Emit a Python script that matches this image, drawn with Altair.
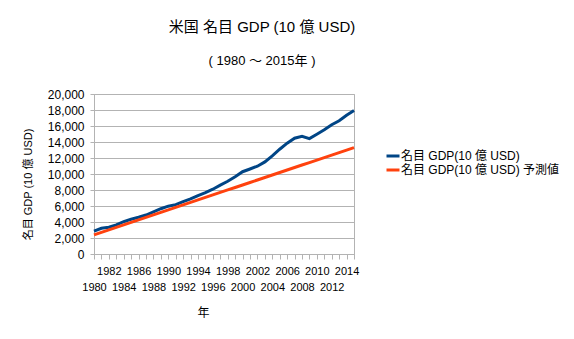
import altair as alt
import pandas as pd

years = [1980, 1981, 1982, 1983, 1984, 1985, 1986, 1987, 1988, 1989,
         1990, 1991, 1992, 1993, 1994, 1995, 1996, 1997, 1998, 1999,
         2000, 2001, 2002, 2003, 2004, 2005, 2006, 2007, 2008, 2009,
         2010, 2011, 2012, 2013, 2014, 2015]

gdp_actual = [2862, 3211, 3345, 3638, 4041, 4347, 4590, 4870, 5253, 5658,
              5980, 6174, 6539, 6879, 7309, 7664, 8100, 8609, 9089, 9661,
              10285, 10622, 10978, 11511, 12275, 13094, 13856, 14478, 14719, 14419,
              14964, 15518, 16155, 16663, 17348, 17947]

gdp_pred = [2400, 2711, 3023, 3334, 3646, 3957, 4269, 4580, 4891, 5203,
            5514, 5826, 6137, 6449, 6760, 7071, 7383, 7694, 8006, 8317,
            8629, 8940, 9251, 9563, 9874, 10186, 10497, 10809, 11120, 11431,
            11743, 12054, 12366, 12677, 12989, 13300]

y_ticks = [0, 2000, 4000, 6000, 8000, 10000, 12000, 14000, 16000, 18000, 20000]

s1 = "名目 GDP(10 億 USD)"
s2 = "名目 GDP(10 億 USD) 予測値"
series_names = [s1, s2]
series_colors = ["#004586", "#ff420e"]

FONT = "Liberation Sans, Arial, Noto Sans CJK JP"

df1 = pd.DataFrame({"year": years, "value": gdp_actual, "series": s1})
df2 = pd.DataFrame({"year": years, "value": gdp_pred, "series": s2})

x_enc = alt.X(
    "year:Q",
    scale=alt.Scale(domain=[1980, 2015], nice=False, zero=False),
    axis=alt.Axis(
        values=years,
        format="d",
        labelExpr="datum.value % 2 == 1 ? '' : (datum.value % 4 == 0 ? ['', datum.label] : datum.label)",
        labelFlush=False,
        labelOverlap=False,
        labelBound=False,
        labelFontSize=11,
        labelLineHeight=16,
        labelBaseline="top",
        labelPadding=6,
        tickSize=5,
        tickColor="#b3b3b3",
        domainColor="#b3b3b3",
        grid=False,
        title="年",
        titleFontSize=12,
        titleFontWeight="normal",
        titleX=109,
        titleY=58,
        titleBaseline="middle",
        titleAlign="center",
    ),
)

y_enc = alt.Y(
    "value:Q",
    scale=alt.Scale(domain=[0, 20000], nice=False),
    axis=alt.Axis(
        values=y_ticks,
        format=",d",
        labelFontSize=12,
        labelPadding=6,
        tickSize=4,
        tickColor="#b3b3b3",
        domainColor="#b3b3b3",
        gridColor="#b3b3b3",
        title="名目 GDP (10 億 USD)",
        titleFontSize=11,
        titleFontWeight="normal",
        titleAngle=270,
        titleX=-66,
        titleY=90,
        titleBaseline="middle",
        titleAlign="center",
    ),
)

color_enc = alt.Color(
    "series:N",
    scale=alt.Scale(domain=series_names, range=series_colors),
    legend=alt.Legend(
        orient="none",
        legendX=291,
        legendY=54,
        title=None,
        symbolType="stroke",
        symbolStrokeWidth=3,
        symbolSize=169,
        labelFontSize=12,
        labelOffset=0,
        rowPadding=0,
        padding=0,
    ),
)

line1 = alt.Chart(df1).mark_line(strokeWidth=3).encode(x=x_enc, y=y_enc, color=color_enc)
line2 = alt.Chart(df2).mark_line(strokeWidth=3).encode(x=x_enc, y=y_enc, color=color_enc)

chart = (
    alt.layer(line1, line2)
    .properties(
        width=260,
        height=160,
        autosize=alt.AutoSizeParams(type="none"),
        padding={"left": 94, "top": 94, "right": 220, "bottom": 85},
        title=alt.TitleParams(
            text="米国 名目 GDP (10 億 USD)",
            subtitle="( 1980 ～ 2015年 )",
            anchor="middle",
            dx=38,
            fontSize=15,
            fontWeight="normal",
            subtitleFontSize=13,
            subtitlePadding=20,
            offset=20,
            color="black",
            subtitleColor="black",
        ),
    )
    .configure(font=FONT)
    .configure_axis(labelColor="black", titleColor="black")
    .configure_legend(labelColor="black")
    .configure_view(stroke="#b3b3b3", strokeWidth=1)
)

chart.save("out.html", embed_options={"renderer": "svg", "actions": False})
